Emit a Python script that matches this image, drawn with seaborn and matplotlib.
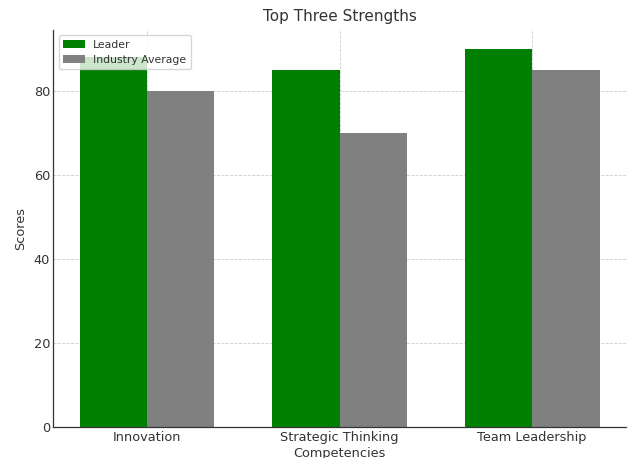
import matplotlib
matplotlib.use("Agg")
import matplotlib.pyplot as plt
import seaborn as sns
import pandas as pd

categories = ["Innovation", "Strategic Thinking", "Team Leadership"]
leader = [88, 85, 90]
industry = [80, 70, 85]
series_names = ["Leader", "Industry Average"]

df = pd.DataFrame({
    "Competency": categories * 2,
    "Score": leader + industry,
    "Group": [series_names[0]] * 3 + [series_names[1]] * 3,
})

sns.set_style("whitegrid")
plt.rcParams["font.family"] = ["DejaVu Sans"]

fig, ax = plt.subplots(figsize=(6.33, 4.58), dpi=100)
fig.subplots_adjust(left=0.084, right=0.989, top=0.935, bottom=0.068)

sns.barplot(data=df, x="Competency", y="Score", hue="Group",
            palette={"Leader": "green", "Industry Average": "grey"},
            width=0.7, saturation=1, ax=ax, zorder=2, linewidth=0)

ax.set_xlim(-0.4875, 2.4875)
ax.set_ylim(0, 94.5)
ax.set_yticks([0, 20, 40, 60, 80])
ax.grid(True, linestyle="--", linewidth=0.6, color="#cccccc", zorder=0)
ax.set_axisbelow(True)
for s in ["top", "right"]:
    ax.spines[s].set_visible(False)
for s in ["left", "bottom"]:
    ax.spines[s].set_color("#333333")
    ax.spines[s].set_linewidth(0.9)
ax.tick_params(axis="both", labelcolor="#333333", labelsize=9.3, length=0)
ax.tick_params(axis="x", pad=3)
ax.tick_params(axis="y", pad=2.2)
ax.set_title("Top Three Strengths", fontsize=11, color="#333333", pad=6)
ax.set_xlabel("Competencies", fontsize=9.3, color="#333333", labelpad=2)
ax.set_ylabel("Scores", fontsize=9.3, color="#333333", labelpad=5)
leg = ax.legend(loc="upper left", fontsize=7.8, framealpha=0.8, handlelength=2.0)
leg.set_title(None)
for t in leg.get_texts():
    t.set_color("#333333")

fig.savefig("out.png", dpi=100)
